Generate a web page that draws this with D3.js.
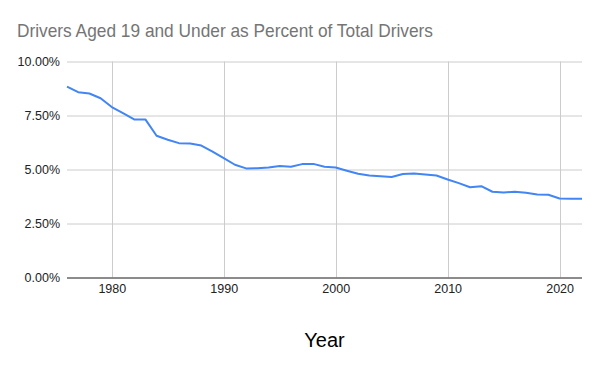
<!DOCTYPE html>
<html>
<head>
<meta charset="utf-8">
<script src="https://cdn.jsdelivr.net/npm/d3@7"></script>
<style>
  body { margin: 0; background: #fff; }
  svg { display: block; }
</style>
</head>
<body>
<div id="chart"></div>
<script>
// data
const years = [1976, 1977, 1978, 1979, 1980, 1981, 1982, 1983, 1984, 1985,
  1986, 1987, 1988, 1989, 1990, 1991, 1992, 1993, 1994, 1995,
  1996, 1997, 1998, 1999, 2000, 2001, 2002, 2003, 2004, 2005,
  2006, 2007, 2008, 2009, 2010, 2011, 2012, 2013, 2014, 2015,
  2016, 2017, 2018, 2019, 2020, 2021, 2022];
const percents = [8.84, 8.58, 8.52, 8.30, 7.89, 7.61, 7.32, 7.32, 6.56, 6.38,
  6.22, 6.20, 6.11, 5.83, 5.53, 5.22, 5.05, 5.06, 5.09, 5.16,
  5.13, 5.25, 5.26, 5.13, 5.09, 4.94, 4.80, 4.72, 4.69, 4.65,
  4.79, 4.81, 4.77, 4.72, 4.54, 4.37, 4.18, 4.23, 3.97, 3.94,
  3.97, 3.92, 3.84, 3.83, 3.66, 3.65, 3.65];
const xTicks = [1980, 1990, 2000, 2010, 2020];
const yTicks = [0, 2.5, 5, 7.5, 10];

const title = "Drivers Aged 19 and Under as Percent of Total Drivers";
const xTitle = "Year";

const W = 600, H = 371;
const margin = {top: 61.5, right: 18, bottom: 93.5, left: 67};
const width = W - margin.left - margin.right;
const height = H - margin.top - margin.bottom;

const svg = d3.select("#chart")
  .append("svg")
    .attr("width", W)
    .attr("height", H);

const titleEl = svg.append("text")
  .attr("x", 17)
  .attr("y", 37)
  .attr("fill", "#757575")
  .style("font-family", "'Liberation Sans', Arial, sans-serif")
  .style("font-size", "19px")
  .text(title);
// squeeze to the width the reference title takes
if (titleEl.node().getComputedTextLength() > 416)
  titleEl.attr("textLength", 416).attr("lengthAdjust", "spacingAndGlyphs");

const g = svg.append("g")
  .attr("transform", "translate(" + margin.left + "," + margin.top + ")");

const x = d3.scaleLinear()
  .domain([1976, 2022])
  .range([0, width]);

const y = d3.scaleLinear()
  .domain([0, 10])
  .range([height, 0]);

// gridlines
g.append("g")
  .selectAll("line")
  .data(yTicks)
  .enter()
  .append("line")
    .attr("x1", 0)
    .attr("x2", width)
    .attr("y1", d => Math.round(y(d)) + 0.5)
    .attr("y2", d => Math.round(y(d)) + 0.5)
    .attr("stroke", "#cccccc")
    .attr("stroke-width", 1);

g.append("g")
  .selectAll("line")
  .data(xTicks)
  .enter()
  .append("line")
    .attr("x1", d => Math.round(x(d)) + 0.5)
    .attr("x2", d => Math.round(x(d)) + 0.5)
    .attr("y1", 0)
    .attr("y2", height)
    .attr("stroke", "#cccccc")
    .attr("stroke-width", 1);

// y labels
const yAxis = g.append("g")
  .call(d3.axisLeft(y).tickValues(yTicks).tickSize(0).tickPadding(7)
    .tickFormat(d => d.toFixed(2) + "%"));
yAxis.select(".domain").remove();
yAxis.selectAll("text")
  .attr("fill", "#222")
  .style("font-family", "'Liberation Sans', Arial, sans-serif")
  .style("font-size", "12.5px");

// x labels
const xAxis = g.append("g")
  .attr("transform", "translate(0," + height + ")")
  .call(d3.axisBottom(x).tickValues(xTicks).tickSize(0).tickPadding(7)
    .tickFormat(d3.format("d")));
xAxis.select(".domain").remove();
xAxis.selectAll("text")
  .attr("fill", "#222")
  .style("font-family", "'Liberation Sans', Arial, sans-serif")
  .style("font-size", "12.5px");

// baseline
g.append("line")
  .attr("x1", 0)
  .attr("x2", width)
  .attr("y1", Math.round(y(0)) + 0.5)
  .attr("y2", Math.round(y(0)) + 0.5)
  .attr("stroke", "#333333")
  .attr("stroke-width", 1.2);

// the series
const data = years.map((yr, i) => [yr, percents[i]]);
g.append("path")
  .datum(data)
  .attr("fill", "none")
  .attr("stroke", "#4285f4")
  .attr("stroke-width", 2)
  .attr("stroke-linejoin", "round")
  .attr("d", d3.line()
    .x(d => x(d[0]))
    .y(d => y(d[1])));

svg.append("text")
  .attr("x", margin.left + width / 2)
  .attr("y", 347)
  .attr("text-anchor", "middle")
  .attr("fill", "#000")
  .style("font-family", "'Liberation Sans', Arial, sans-serif")
  .style("font-size", "20px")
  .text(xTitle);
</script>
</body>
</html>
